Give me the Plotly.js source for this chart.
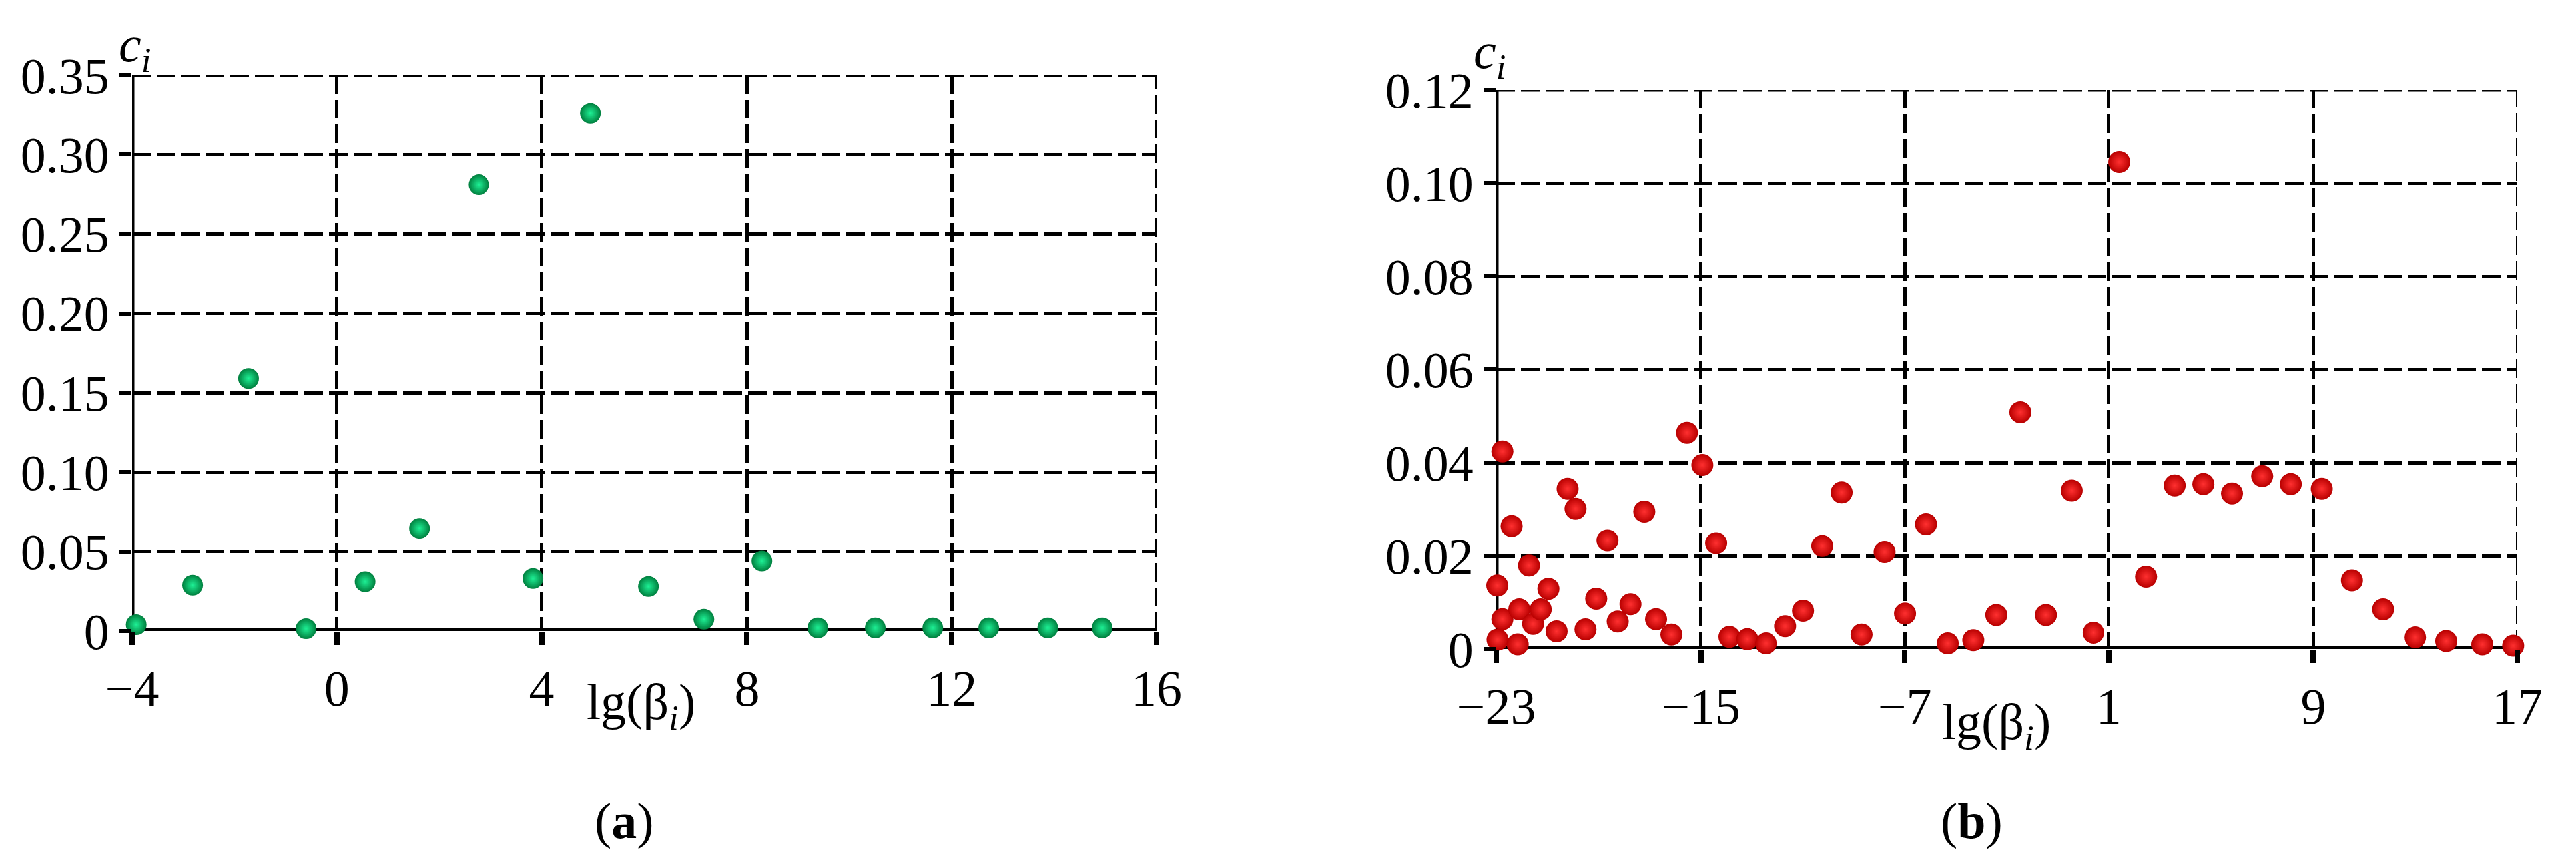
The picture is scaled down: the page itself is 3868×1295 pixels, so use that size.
<!DOCTYPE html>
<html>
<head>
<meta charset="utf-8">
<script src="https://cdn.plot.ly/plotly-3.0.1.min.js"></script>
<style>html,body{margin:0;padding:0;background:#fff;}#chart{width:3868px;height:1295px;}</style>
</head>
<body>
<div id="chart"></div>
<script>
// Panel (a): lg(beta_i) and c_i
const aX = [-3.92, -2.81, -1.72, -0.60, 0.55, 1.61, 2.77, 3.83, 4.95, 6.08, 7.16, 8.29, 9.39, 10.51, 11.63, 12.72, 13.87, 14.93];
const aC = [0.004, 0.0288, 0.159, 0.0015, 0.031, 0.0647, 0.281, 0.033, 0.326, 0.028, 0.0074, 0.044, 0.002, 0.002, 0.002, 0.002, 0.002, 0.002];
const aTickX = [-4, 0, 4, 8, 12, 16];
const aTickXText = ['\u22124', '0', '4', '8', '12', '16'];
const aTickY = [0, 0.05, 0.10, 0.15, 0.20, 0.25, 0.30, 0.35];
const aTickYText = ['0', '0.05', '0.10', '0.15', '0.20', '0.25', '0.30', '0.35'];

// Panel (b)
const bX = [-22.96, -22.95, -22.76, -22.76, -22.4, -22.16, -22.1, -21.72, -21.56, -21.26, -20.96, -20.64, -20.21, -19.9, -19.51, -19.09, -18.65, -18.25, -17.75, -17.21, -16.75, -16.15, -15.54, -14.94, -14.4, -13.88, -13.18, -12.44, -11.68, -10.98, -10.23, -9.47, -8.69, -7.79, -6.99, -6.17, -5.32, -4.32, -3.42, -2.48, -1.48, -0.47, 0.39, 1.41, 2.46, 3.58, 4.70, 5.82, 7.0, 8.12, 9.33, 10.51, 11.73, 13.0, 14.22, 15.63, 16.84];
const bC = [0.0136, 0.002, 0.0424, 0.0064, 0.0264, 0.001, 0.0085, 0.0179, 0.0054, 0.0085, 0.0129, 0.0038, 0.0344, 0.0301, 0.0042, 0.0108, 0.0233, 0.0059, 0.0096, 0.0295, 0.0064, 0.0031, 0.0464, 0.0395, 0.0227, 0.0026, 0.0021, 0.0012, 0.0049, 0.0082, 0.0221, 0.0336, 0.0031, 0.0208, 0.0076, 0.0268, 0.0012, 0.0019, 0.0073, 0.0508, 0.0073, 0.034, 0.0035, 0.1045, 0.0155, 0.0351, 0.0354, 0.0334, 0.0371, 0.0354, 0.0344, 0.0147, 0.0085, 0.0025, 0.0017, 0.001, 0.0007];
const bTickX = [-23, -15, -7, 1, 9, 17];
const bTickXText = ['\u221223', '\u221215', '\u22127', '1', '9', '17'];
const bTickY = [0, 0.02, 0.04, 0.06, 0.08, 0.10, 0.12];
const bTickYText = ['0', '0.02', '0.04', '0.06', '0.08', '0.10', '0.12'];

const W = 3868, H = 1295;
const FONT = 'Liberation Serif';
const px = v => v / W;
const py = v => 1 - v / H;
const DASH = '28px,9px';

function axisCommon() {
  return {
    showgrid: true, gridcolor: '#000', gridwidth: 5, griddash: DASH,
    zeroline: false, showline: false,
    ticks: 'outside', tickcolor: '#000',
    tickfont: {family: FONT, size: 76, color: '#000'},
    tickmode: 'array', fixedrange: true
  };
}

const traces = [
  {x: aX, y: aC, xaxis: 'x', yaxis: 'y', type: 'scatter', mode: 'markers', cliponaxis: false,
   marker: {size: 31, color: '#007f3e', gradient: {type: 'radial', color: '#1ef095'}, line: {width: 0}}},
  {x: bX, y: bC, xaxis: 'x2', yaxis: 'y2', type: 'scatter', mode: 'markers', cliponaxis: false,
   marker: {size: 33, color: '#b80000', gradient: {type: 'radial', color: '#ff3030'}, line: {width: 0}}}
];

const layout = {
  width: W, height: H,
  margin: {l: 0, r: 0, t: 0, b: 0},
  paper_bgcolor: '#fff', plot_bgcolor: '#fff',
  showlegend: false,
  font: {family: FONT, size: 76, color: '#000'},
  xaxis: Object.assign(axisCommon(), {domain: [px(198), px(1737)], range: [-4, 16], anchor: 'y',
    tickvals: aTickX, ticktext: aTickXText, ticklen: 20, tickwidth: 8, ticklabelstandoff: 0}),
  yaxis: Object.assign(axisCommon(), {domain: [py(948), py(113)], range: [0, 0.35], anchor: 'x',
    tickvals: aTickY, ticktext: aTickYText, ticklen: 18, tickwidth: 6, ticklabelstandoff: 0}),
  xaxis2: Object.assign(axisCommon(), {domain: [px(2247), px(3780)], range: [-23, 17], anchor: 'y2',
    tickvals: bTickX, ticktext: bTickXText, ticklen: 20, tickwidth: 8, ticklabelstandoff: 0}),
  yaxis2: Object.assign(axisCommon(), {domain: [py(975), py(135)], range: [0, 0.12], anchor: 'x2',
    tickvals: bTickY, ticktext: bTickYText, ticklen: 18, tickwidth: 6, ticklabelstandoff: 0}),
  shapes: [
    // panel a frame
    {type: 'line', xref: 'x', yref: 'y', x0: -4, x1: 16, y0: 0.35, y1: 0.35, line: {color: '#000', width: 5, dash: DASH}, layer: 'below'},
    {type: 'line', xref: 'x', yref: 'y', x0: 16, x1: 16, y0: 0, y1: 0.35, line: {color: '#000', width: 5, dash: DASH}, layer: 'below'},
    {type: 'line', xref: 'x', yref: 'y', x0: -4, x1: 16, y0: 0, y1: 0, line: {color: '#000', width: 10}, layer: 'below'},
    {type: 'line', xref: 'x', yref: 'y', x0: -4, x1: -4, y0: 0, y1: 0.35, line: {color: '#000', width: 7}, layer: 'below'},
    // panel b frame
    {type: 'line', xref: 'x2', yref: 'y2', x0: -23, x1: 17, y0: 0.12, y1: 0.12, line: {color: '#000', width: 5, dash: DASH}, layer: 'below'},
    {type: 'line', xref: 'x2', yref: 'y2', x0: 17, x1: 17, y0: 0, y1: 0.12, line: {color: '#000', width: 4, dash: DASH}, layer: 'below'},
    {type: 'line', xref: 'x2', yref: 'y2', x0: -23, x1: 17, y0: 0, y1: 0, line: {color: '#000', width: 10}, layer: 'below'},
    {type: 'line', xref: 'x2', yref: 'y2', x0: -23, x1: -23, y0: 0, y1: 0.12, line: {color: '#000', width: 7}, layer: 'below'}
  ],
  annotations: [
    {xref: 'paper', yref: 'paper', x: px(176), y: py(72), xanchor: 'left', yanchor: 'middle', showarrow: false,
     text: '<i>c</i><sub><i>i</i></sub>', font: {family: FONT, size: 76, color: '#000'}},
    {xref: 'paper', yref: 'paper', x: px(2211), y: py(82), xanchor: 'left', yanchor: 'middle', showarrow: false,
     text: '<i>c</i><sub><i>i</i></sub>', font: {family: FONT, size: 76, color: '#000'}},
    {xref: 'paper', yref: 'paper', x: px(962), y: py(1060), xanchor: 'center', yanchor: 'middle', showarrow: false,
     text: 'lg(\u03b2<sub><i>i</i></sub>)', font: {family: FONT, size: 76, color: '#000'}},
    {xref: 'paper', yref: 'paper', x: px(2997), y: py(1090), xanchor: 'center', yanchor: 'middle', showarrow: false,
     text: 'lg(\u03b2<sub><i>i</i></sub>)', font: {family: FONT, size: 76, color: '#000'}},
    {xref: 'paper', yref: 'paper', x: px(937), y: py(1233), xanchor: 'center', yanchor: 'middle', showarrow: false,
     text: '(<b>a</b>)', font: {family: FONT, size: 76, color: '#000'}},
    {xref: 'paper', yref: 'paper', x: px(2960), y: py(1233), xanchor: 'center', yanchor: 'middle', showarrow: false,
     text: '(<b>b</b>)', font: {family: FONT, size: 76, color: '#000'}}
  ]
};

Plotly.newPlot('chart', traces, layout, {staticPlot: true, displayModeBar: false});
</script>
</body>
</html>
